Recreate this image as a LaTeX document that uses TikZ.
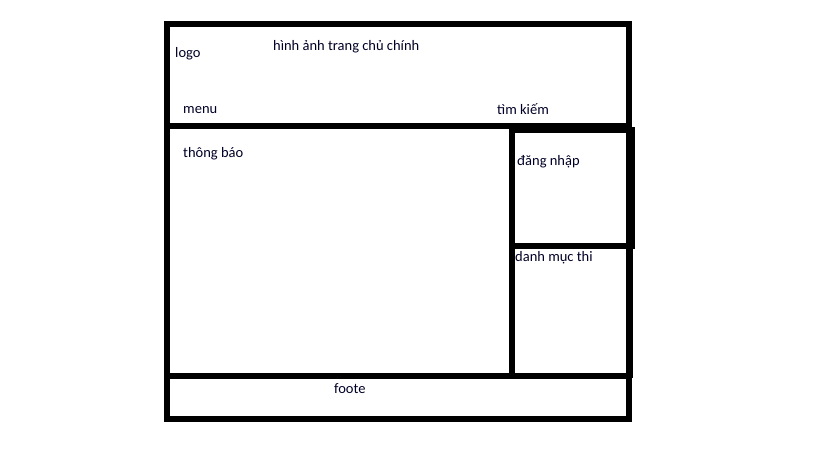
\documentclass[tikz,border=0pt]{standalone}
\usepackage{fontspec}
\setmainfont{Carlito}
\begin{document}
\begin{tikzpicture}[x=1pt,y=-1pt,
  wall/.style={line width=6pt,draw=black},
  thickwall/.style={line width=8pt,draw=black},
  lbl/.style={anchor=base west,inner sep=0pt,font=\fontsize{14.5}{16}\selectfont,text=black!85!blue}]
\useasboundingbox (0,0) rectangle (819,460);
% outer frame
\draw[wall] (167,24) rectangle (629,419);
% header bottom
\draw[wall] (164,125.5) -- (632,125.5);
% footer top
\draw[wall] (164,375.5) -- (630,375.5);
% main divider
\draw[wall] (511.5,125) -- (511.5,378.5);
% login box
\draw[wall] (511.5,130) -- (631,130);
\draw[wall] (511.5,246) -- (631,246);
\draw[thickwall] (631,127) -- (631,249);
\draw[wall] (630,246) -- (630,378);
% labels
\node[lbl] (logo) at (175,58) {logo};
\node[lbl] (banner) at (273,51) {hình ảnh trang chủ chính};
\node[lbl] (menu) at (183,113) {menu};
\node[lbl] (search) at (497,114.5) {tìm kiếm};
\node[lbl] (notice) at (183,157) {thông báo};
\node[lbl] (login) at (517,165) {đăng nhập};
\node[lbl] (cats) at (515,261) {danh mục thi};
\node[lbl] (footer) at (334,393) {foote};
\end{tikzpicture}
\end{document}
